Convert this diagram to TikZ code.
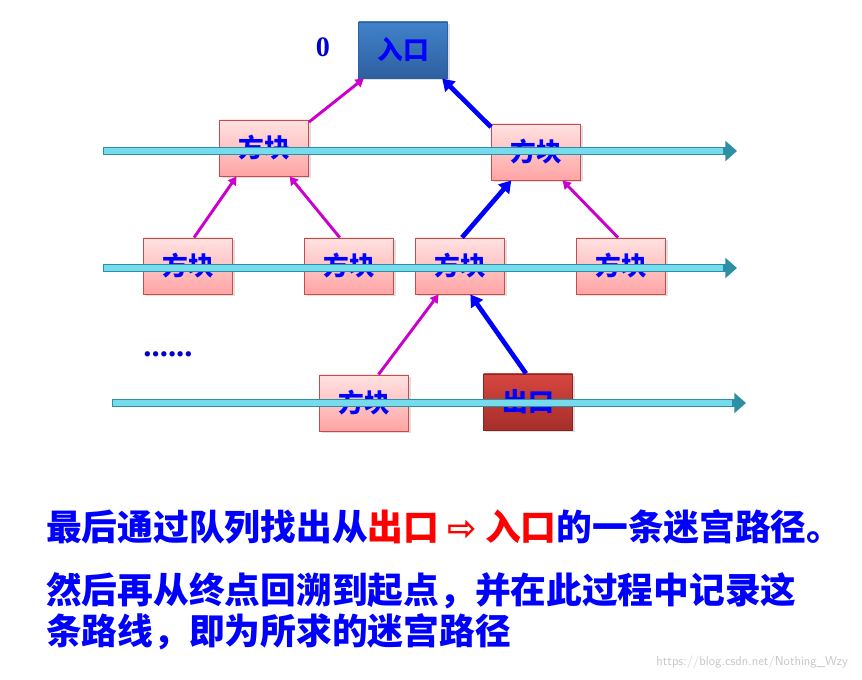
\documentclass[tikz,border=0pt]{standalone}
\usepackage{fontspec}
\newfontfamily\cjk{Noto Sans CJK SC}
\newfontfamily\symb{DejaVu Sans}
\newfontfamily\numf{Liberation Serif}
\usetikzlibrary{arrows.meta,shadows}

\definecolor{pinkTop}{HTML}{FFE2E2}
\definecolor{pinkBot}{HTML}{FFA4A4}
\definecolor{pinkLine}{HTML}{C84B4B}
\definecolor{entTop}{HTML}{4082CA}
\definecolor{entBot}{HTML}{2E60A0}
\definecolor{exTop}{HTML}{D6463F}
\definecolor{exBot}{HTML}{A62E2A}
\definecolor{tubeDark}{HTML}{2E8EA4}
\definecolor{tubeLight}{HTML}{74DCEC}
\definecolor{mag}{HTML}{CC00CC}
\definecolor{txtblue}{HTML}{0000FF}

\tikzset{
  cell/.style={draw=pinkLine, thick, top color=pinkTop, bottom color=pinkBot,
    minimum width=2.67cm, minimum height=1.68cm, inner sep=0pt,
    drop shadow={opacity=0.25, shadow xshift=2pt, shadow yshift=-2pt},
    font=\cjk\bfseries\fontsize{22}{22}\selectfont, text=txtblue},
  entrybox/.style={cell, draw=entBot, top color=entTop, bottom color=entBot},
  exitbox/.style={cell, draw=exBot!80!black, top color=exTop, bottom color=exBot},
  thin link/.style={mag, line width=2.5pt, -{Triangle[length=7pt,width=8pt]}},
  path link/.style={txtblue, line width=4pt, -{Triangle[length=10pt,width=12pt]}},
  line txt/.style={anchor=west, inner sep=0pt, text=txtblue,
    font=\cjk\bfseries\fontsize{30.5}{36}\selectfont},
  mark txt/.style={text=txtblue!80!black, font=\numf\bfseries\fontsize{24}{24}\selectfont}
}

% queue row arrow
\newcommand\queuerow[2]{%
  \draw[tubeDark, line width=7pt, -{Triangle[length=10pt,width=17pt]}] (#1) -- (#2);
  \draw[tubeLight, line width=4.5pt, shorten >=12pt, shorten <=1pt, yshift=0.9pt] (#1) -- (#2);
}

\begin{document}
\begin{tikzpicture}[x=0.03cm, y=-0.03cm]
  \useasboundingbox (0,0) rectangle (862,680);

  % tree
  \node[entrybox] (entry) at (403,50) {入口};
  \node[mark txt] (zero) at (323,47) {0};

  \node[cell] (l1a) at (264,148) {方块};
  \node[cell] (l1b) at (536,152) {方块};

  \node[cell] (l2a) at (188,266) {方块};
  \node[cell] (l2b) at (349,266) {方块};
  \node[cell] (l2c) at (460,266) {方块};
  \node[cell] (l2d) at (621,266) {方块};

  \node[cell] (l3a) at (364,403) {方块};
  \node[exitbox] (exit) at (528,402) {出口};
  \node[mark txt, font=\numf\bfseries\fontsize{28}{28}\selectfont] (dots) at (168,354) {......};

  \draw[thin link] (l1a.30) -- (entry.216);
  \draw[path link] (l1b.151) -- (entry.324);
  \draw[thin link] (l2a.78) -- (l1a.226);
  \draw[thin link] (l2b.108) -- (l1a.312);
  \draw[path link] (l2c.86) -- (l1b.229);
  \draw[thin link] (l2d.96) -- (l1b.313);
  \draw[thin link] (l3a.63) -- (l2c.233);
  \draw[path link] (exit.94) -- (l2c.290);

  % queue rows
  \coordinate (q1s) at (103,151); \coordinate (q1e) at (737,151);
  \coordinate (q2s) at (103,268); \coordinate (q2e) at (737,268);
  \coordinate (q3s) at (112,403); \coordinate (q3e) at (746,403);
  \queuerow{q1s}{q1e}
  \queuerow{q2s}{q2e}
  \queuerow{q3s}{q3e}

  % text
  \node[line txt] (t1) at (46,527) {最后通过队列找出从\textcolor{red}{出口 {\symb\fontsize{30}{30}\selectfont ⇨} 入口}的一条迷宫路径。};
  \node[line txt] (t2) at (46,591) {然后再从终点回溯到起点，并在此过程中记录这};
  \node[line txt] (t3) at (46,632) {条路线，即为所求的迷宫路径};
  \node[anchor=east, text=gray!45, font=\sffamily\fontsize{11}{11}\selectfont] (mark) at (852,662) {https://blog.csdn.net/Nothing\_Wzy};
\end{tikzpicture}
\end{document}
